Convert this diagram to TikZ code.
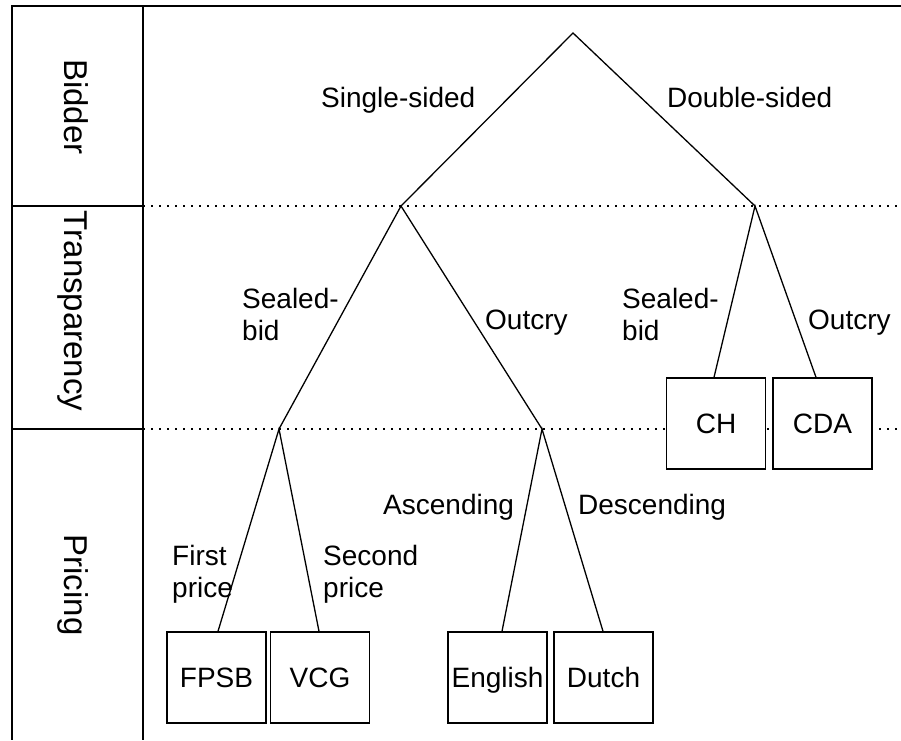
\documentclass[tikz,border=0pt]{standalone}
\usepackage{fontspec}
\setmainfont{Liberation Sans}
\begin{document}
\begin{tikzpicture}[x=1pt,y=-1pt,
  frame/.style={line width=1.6pt},
  branch/.style={line width=1.3pt},
  level/.style={line width=1.4pt, dash pattern=on 1.5pt off 6.5pt},
  txt/.style={font=\fontsize{28}{32}\selectfont},
  leaf/.style={txt, draw, line width=1.4pt, fill=white, minimum width=99pt,
    minimum height=91pt, inner sep=0pt, text height=20pt, text depth=0pt},
  lbl/.style={txt, anchor=base west, align=left, inner sep=0pt},
  side/.style={font=\fontsize{33}{36}\selectfont, rotate=-90, anchor=base, inner sep=0pt}]
\useasboundingbox (0,0) rectangle (901,740);

% category column
\coordinate (tl) at (12,6);
\coordinate (tr) at (901,6);
\coordinate (bl) at (12,740);
\coordinate (cb) at (143,740);
\coordinate (ct) at (143,6);
\coordinate (s1l) at (12,206);
\coordinate (s1r) at (143,206);
\coordinate (s2l) at (12,429);
\coordinate (s2r) at (143,429);
\coordinate (d1) at (900,206);
\coordinate (d2) at (900,429);

\draw[level] (s1r) -- (d1);
\draw[level] (s2r) -- (d2);
\draw[frame] (tr) -- (tl) -- (bl);
\draw[frame] (ct) -- (cb);
\draw[frame] (s1l) -- (s1r);
\draw[frame] (s2l) -- (s2r);

\node[side] (bidder) at (64.5,107) {Bidder};
\node[side] (transp) at (64.5,311) {Transparency};
\node[side] (pricing) at (64.5,585) {Pricing};

% tree branch points
\coordinate (root) at (573,33);
\coordinate (single) at (401,206);
\coordinate (double) at (755,206);
\coordinate (sealed) at (279,429);
\coordinate (outcry) at (542,429);

% leaves
\node[leaf] (ch) at (716,423.5) {CH};
\node[leaf] (cda) at (822.5,423.5) {CDA};
\node[leaf] (fpsb) at (216.5,677.5) {FPSB};
\node[leaf] (vcg) at (320,677.5) {VCG};
\node[leaf] (english) at (497.5,677.5) {English};
\node[leaf] (dutch) at (603.5,677.5) {Dutch};

% branches
\draw[branch] (single) -- (root) -- (double);
\draw[branch] (sealed) -- (single) -- (outcry);
\draw[branch] ([xshift=-2pt]ch.north) -- (double) -- ([xshift=-6.5pt]cda.north);
\draw[branch] ([xshift=1.5pt]fpsb.north) -- (sealed) -- ([xshift=-1pt]vcg.north);
\draw[branch] ([xshift=4.5pt]english.north) -- (outcry) -- ([xshift=-0.5pt]dutch.north);

% branch labels (multi-line ones are placed by their last baseline)
\node[lbl] (l1) at (321,107) {Single-sided};
\node[lbl] (l2) at (667,107) {Double-sided};
\node[lbl] (l3) at (242,340) {Sealed-\\bid};
\node[lbl] (l4) at (485,329) {Outcry};
\node[lbl] (l5) at (622,340) {Sealed-\\bid};
\node[lbl] (l6) at (808,329) {Outcry};
\node[lbl] (l7) at (383,514) {Ascending};
\node[lbl] (l8) at (578,514) {Descending};
\node[lbl] (l9) at (172,597) {First\\price};
\node[lbl] (l10) at (323,597) {Second\\price};
\end{tikzpicture}
\end{document}
